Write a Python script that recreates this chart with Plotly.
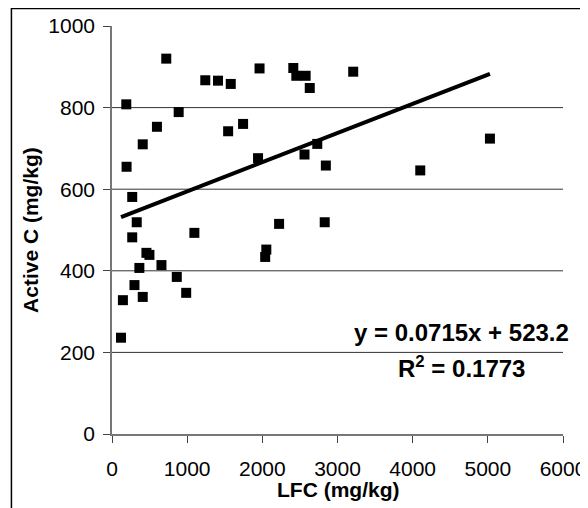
import plotly.graph_objects as go

lfc = [722, 190, 194, 269, 329, 269, 458, 498, 364, 299, 409, 145, 120, 658, 862, 987,
       1096, 887, 598, 409, 1241, 1410, 1580, 1545, 1744, 1963, 1943, 2053, 2038, 2223,
       2412, 2452, 2576, 2631, 2561, 2731, 2845, 2830, 3209, 4101, 5028]
active_c = [920, 808, 655, 581, 519, 482, 444, 439, 407, 365, 336, 328, 236, 414, 385, 346,
            493, 789, 753, 710, 867, 866, 858, 742, 760, 896, 676, 452, 434, 515,
            897, 878, 878, 848, 685, 711, 658, 519, 888, 646, 724]

slope = 0.0715
intercept = 523.2
r2 = 0.1773

x_ticks = [0, 1000, 2000, 3000, 4000, 5000, 6000]
y_ticks = [0, 200, 400, 600, 800, 1000]
grid_vals = [200, 400, 600, 800]

FONT = "Liberation Sans, Arial, sans-serif"

trend_x = [min(lfc), max(lfc)]
trend_y = [slope * v + intercept for v in trend_x]

fig = go.Figure()
fig.add_trace(go.Scatter(x=lfc, y=active_c, mode="markers",
                         marker=dict(symbol="square", size=10, color="black"),
                         showlegend=False, cliponaxis=False))
fig.add_trace(go.Scatter(x=trend_x, y=trend_y, mode="lines",
                         line=dict(color="black", width=4), showlegend=False))

shapes = []
for g in grid_vals:
    shapes.append(dict(type="line", xref="x", yref="y", x0=0, x1=6000, y0=g, y1=g,
                       line=dict(color="#333333", width=1), layer="below"))
# outer frame
shapes.append(dict(type="rect", xref="paper", yref="paper", x0=-0.223, x1=1.3,
                   y0=-0.5, y1=1.043, line=dict(color="black", width=1.5)))

fig.update_layout(
    width=588, height=508,
    margin=dict(l=104, r=33, t=18, b=82),
    paper_bgcolor="white", plot_bgcolor="white",
    font=dict(family=FONT, size=21, color="black"),
    shapes=shapes,
    annotations=[
        dict(text=f"y = {slope}x + {intercept}",
             xref="x", yref="y", x=4656, y=250, showarrow=False,
             xanchor="center", yanchor="middle",
             font=dict(family=FONT, size=24, color="black", weight="bold")),
        dict(text=f"R<sup>2</sup> = {r2}",
             xref="x", yref="y", x=4656, y=165, showarrow=False,
             xanchor="center", yanchor="middle",
             font=dict(family=FONT, size=24, color="black", weight="bold")),
        dict(text="Active C (mg/kg)", xref="paper", yref="paper", x=-0.182, y=0.5,
             textangle=-90, showarrow=False, xanchor="center", yanchor="middle",
             font=dict(family=FONT, size=21, color="black", weight="bold")),
        dict(text="LFC (mg/kg)", xref="paper", yref="paper", x=0.5, y=-0.137,
             showarrow=False, xanchor="center", yanchor="middle",
             font=dict(family=FONT, size=21, color="black", weight="bold")),
    ],
)
fig.update_xaxes(range=[0, 6000], tickvals=x_ticks, showgrid=False, zeroline=False,
                 showline=True, linecolor="#777777", linewidth=1.5, automargin=False,
                 ticks="outside", ticklen=7, tickcolor="#444444", tickwidth=1,
                 ticklabelstandoff=8)
fig.update_yaxes(range=[0, 1000], tickvals=y_ticks, showgrid=False, zeroline=False,
                 showline=True, linecolor="#777777", linewidth=1.5, automargin=False,
                 ticks="outside", ticklen=7, tickcolor="#444444", tickwidth=1,
                 ticklabelstandoff=4)

fig.write_html("out.html")
